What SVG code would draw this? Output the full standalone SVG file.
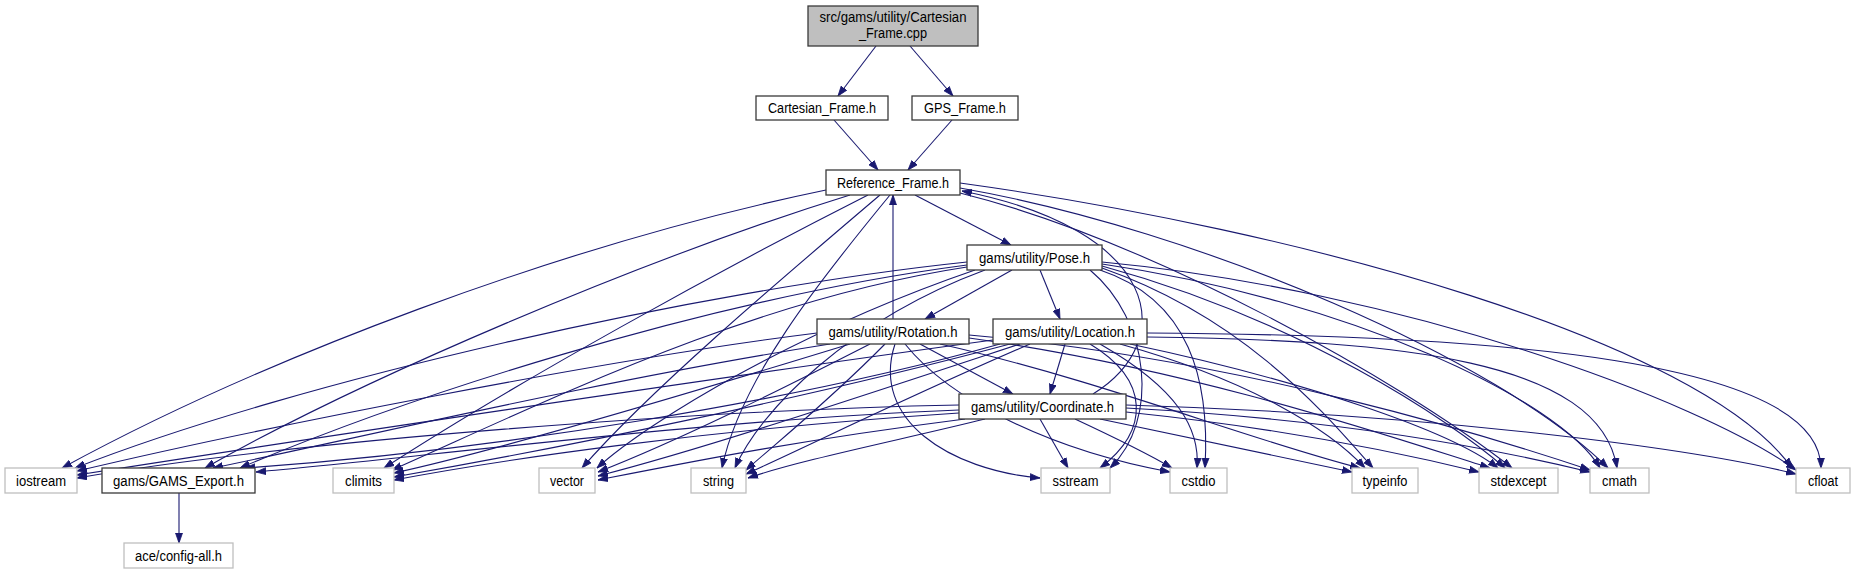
<svg xmlns="http://www.w3.org/2000/svg" width="1855" height="575" viewBox="0 0 1855 575">
<style>
.e{fill:none;stroke:#191970;stroke-width:1.1;marker-end:url(#ah)}
.m{fill:#fff;stroke:#3a3a3a;stroke-width:1.3}
.s{fill:#fff;stroke:#bfbfbf;stroke-width:1.3}
.r{fill:#bfbfbf;stroke:#3a3a3a;stroke-width:1.3}
text{font-family:"Liberation Sans",Arial,sans-serif;font-size:14px;fill:#000;text-anchor:middle}
</style>
<defs>
<marker id="ah" markerUnits="userSpaceOnUse" markerWidth="11" markerHeight="8" refX="10" refY="4" orient="auto">
<path d="M0,0.5 L10,4 L0,7.5 z" fill="#191970" stroke="#191970" stroke-width="0.8"/>
</marker>
</defs>
<rect width="1855" height="575" fill="#fff"/>
<g id="edges">
<path class="e" d="M876,46 L838,96"/>
<path class="e" d="M910,46 L953,96"/>
<path class="e" d="M834,120 L878,170"/>
<path class="e" d="M952,120 L908,170"/>
<path class="e" d="M915,195 L1011,245"/>
<path class="e" d="M826,190 C560,245 260,360 62,468"/>
<path class="e" d="M850,195 C640,260 360,380 205,468"/>
<path class="e" d="M868,195 C720,270 520,380 384,468"/>
<path class="e" d="M880,195 C780,280 650,390 582,468"/>
<path class="e" d="M890,195 C820,280 740,380 722,468"/>
<path class="e" d="M960,193 C1150,240 1400,380 1512,468"/>
<path class="e" d="M960,188 C1200,230 1500,360 1608,468"/>
<path class="e" d="M960,183 C1300,230 1700,340 1792,468"/>
<path class="e" d="M967,262 C700,290 300,380 75,468"/>
<path class="e" d="M967,265 C700,300 400,400 240,468"/>
<path class="e" d="M967,267 C750,300 550,400 392,470"/>
<path class="e" d="M975,270 C800,330 650,420 597,468"/>
<path class="e" d="M985,270 C850,320 760,410 735,468"/>
<path class="e" d="M1012,270 L925,319"/>
<path class="e" d="M1040,270 L1060,319"/>
<path class="e" d="M1090,270 C1150,320 1160,420 1110,468"/>
<path class="e" d="M1100,270 C1190,300 1210,380 1205,468"/>
<path class="e" d="M1102,268 C1250,320 1330,420 1373,468"/>
<path class="e" d="M1102,266 C1300,320 1450,420 1505,468"/>
<path class="e" d="M1102,264 C1350,300 1560,400 1600,468"/>
<path class="e" d="M1102,262 C1400,290 1700,400 1796,470"/>
<path class="e" d="M893,319 L893,195"/>
<path class="e" d="M920,344 L1013,394"/>
<path class="e" d="M817,333 C600,360 250,430 77,471"/>
<path class="e" d="M830,344 C600,380 350,440 213,468"/>
<path class="e" d="M850,344 C700,390 500,450 394,473"/>
<path class="e" d="M870,344 C780,390 680,440 598,472"/>
<path class="e" d="M885,344 C830,400 780,440 746,470"/>
<path class="e" d="M895,344 C870,420 950,470 1040,478"/>
<path class="e" d="M905,344 C950,400 1050,450 1170,472"/>
<path class="e" d="M940,344 C1100,380 1250,440 1360,468"/>
<path class="e" d="M969,338 C1200,370 1400,440 1490,468"/>
<path class="e" d="M969,335 C1250,360 1500,440 1590,470"/>
<path class="e" d="M1065,344 L1050,394"/>
<path class="e" d="M993,340 C700,380 300,440 77,475"/>
<path class="e" d="M1000,344 C800,400 500,450 245,468"/>
<path class="e" d="M1010,344 C800,400 550,450 394,477"/>
<path class="e" d="M1020,344 C850,400 700,450 598,476"/>
<path class="e" d="M1030,344 C900,400 800,450 746,474"/>
<path class="e" d="M1090,344 C1150,380 1150,430 1100,468"/>
<path class="e" d="M1100,344 C1180,390 1200,430 1197,468"/>
<path class="e" d="M1120,344 C1250,380 1330,430 1365,468"/>
<path class="e" d="M1130,344 C1300,380 1450,430 1498,468"/>
<path class="e" d="M1147,337 C1400,340 1600,360 1617,468"/>
<path class="e" d="M1147,333 C1500,335 1820,360 1821,468"/>
<path class="e" d="M1093,394 C1180,340 1160,230 962,191"/>
<path class="e" d="M959,405 C700,410 300,440 77,478"/>
<path class="e" d="M959,410 C700,420 400,460 256,472"/>
<path class="e" d="M959,413 C700,430 500,460 394,480"/>
<path class="e" d="M965,419 C800,440 700,460 598,480"/>
<path class="e" d="M985,419 C900,440 800,460 748,478"/>
<path class="e" d="M1040,419 L1068,468"/>
<path class="e" d="M1075,419 C1120,440 1150,455 1172,468"/>
<path class="e" d="M1100,419 L1352,472"/>
<path class="e" d="M1126,412 C1300,430 1430,460 1479,472"/>
<path class="e" d="M1126,408 C1350,420 1500,450 1590,472"/>
<path class="e" d="M1126,405 C1450,415 1700,450 1796,474"/>
<path class="e" d="M179,493 L179,543"/>
</g>
<g id="n_cpp"><rect class="r" x="808" y="6" width="170" height="40"/><text x="893" y="21.5" textLength="147" lengthAdjust="spacingAndGlyphs">src/gams/utility/Cartesian</text><text x="893" y="37.5" textLength="68" lengthAdjust="spacingAndGlyphs">_Frame.cpp</text></g>
<g id="n_cart"><rect class="m" x="756" y="96" width="132" height="24"/><text x="822" y="113" textLength="108" lengthAdjust="spacingAndGlyphs">Cartesian_Frame.h</text></g>
<g id="n_gps"><rect class="m" x="912" y="96" width="106" height="24"/><text x="965" y="113" textLength="82" lengthAdjust="spacingAndGlyphs">GPS_Frame.h</text></g>
<g id="n_ref"><rect class="m" x="826" y="170" width="134" height="25"/><text x="893" y="187.5" textLength="112" lengthAdjust="spacingAndGlyphs">Reference_Frame.h</text></g>
<g id="n_pose"><rect class="m" x="967" y="245" width="135" height="25"/><text x="1034.5" y="262.5" textLength="111" lengthAdjust="spacingAndGlyphs">gams/utility/Pose.h</text></g>
<g id="n_rot"><rect class="m" x="817" y="319" width="152" height="25"/><text x="893" y="336.5" textLength="129" lengthAdjust="spacingAndGlyphs">gams/utility/Rotation.h</text></g>
<g id="n_loc"><rect class="m" x="993" y="319" width="154" height="25"/><text x="1070" y="336.5" textLength="130" lengthAdjust="spacingAndGlyphs">gams/utility/Location.h</text></g>
<g id="n_coord"><rect class="m" x="959" y="394" width="167" height="25"/><text x="1042.5" y="411.5" textLength="143" lengthAdjust="spacingAndGlyphs">gams/utility/Coordinate.h</text></g>
<g id="n_iostream"><rect class="s" x="5" y="468" width="72" height="25"/><text x="41" y="485.5" textLength="50" lengthAdjust="spacingAndGlyphs">iostream</text></g>
<g id="n_gams"><rect class="m" x="102" y="468" width="153" height="25"/><text x="178.5" y="485.5" textLength="131" lengthAdjust="spacingAndGlyphs">gams/GAMS_Export.h</text></g>
<g id="n_climits"><rect class="s" x="333" y="468" width="61" height="25"/><text x="363.5" y="485.5" textLength="37" lengthAdjust="spacingAndGlyphs">climits</text></g>
<g id="n_vector"><rect class="s" x="539" y="468" width="56" height="25"/><text x="567" y="485.5" textLength="34" lengthAdjust="spacingAndGlyphs">vector</text></g>
<g id="n_string"><rect class="s" x="691" y="468" width="55" height="25"/><text x="718.5" y="485.5" textLength="31" lengthAdjust="spacingAndGlyphs">string</text></g>
<g id="n_sstream"><rect class="s" x="1041" y="468" width="69" height="25"/><text x="1075.5" y="485.5" textLength="46" lengthAdjust="spacingAndGlyphs">sstream</text></g>
<g id="n_cstdio"><rect class="s" x="1170" y="468" width="57" height="25"/><text x="1198.5" y="485.5" textLength="34" lengthAdjust="spacingAndGlyphs">cstdio</text></g>
<g id="n_typeinfo"><rect class="s" x="1352" y="468" width="66" height="25"/><text x="1385" y="485.5" textLength="45" lengthAdjust="spacingAndGlyphs">typeinfo</text></g>
<g id="n_stdexcept"><rect class="s" x="1479" y="468" width="79" height="25"/><text x="1518.5" y="485.5" textLength="56" lengthAdjust="spacingAndGlyphs">stdexcept</text></g>
<g id="n_cmath"><rect class="s" x="1590" y="468" width="59" height="25"/><text x="1619.5" y="485.5" textLength="35" lengthAdjust="spacingAndGlyphs">cmath</text></g>
<g id="n_cfloat"><rect class="s" x="1796" y="468" width="54" height="25"/><text x="1823" y="485.5" textLength="30" lengthAdjust="spacingAndGlyphs">cfloat</text></g>
<g id="n_ace"><rect class="s" x="124" y="543" width="109" height="25"/><text x="178.5" y="560.5" textLength="87" lengthAdjust="spacingAndGlyphs">ace/config-all.h</text></g>
</svg>
